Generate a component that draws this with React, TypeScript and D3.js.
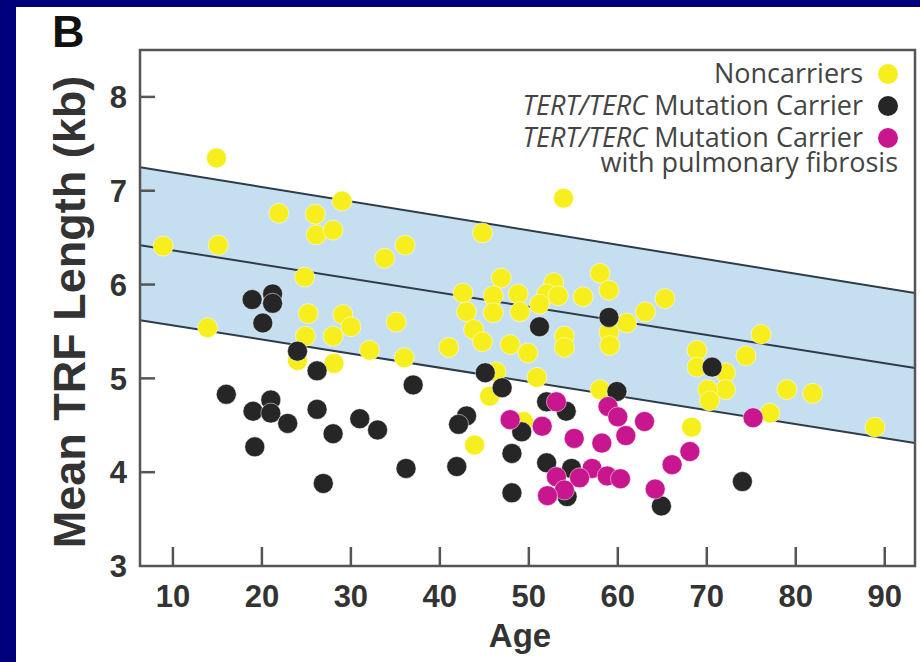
import React from 'react';
import * as d3 from 'd3';

// [age, mean TRF length kb]
const noncarriers: [number, number][] = [
  [8.9, 6.41], [14.9, 7.35], [15.1, 6.42], [13.9, 5.54], [21.9, 6.76], [26.0, 6.75],
  [29.0, 6.89], [26.1, 6.53], [28.0, 6.58], [24.8, 6.08], [33.8, 6.28], [36.1, 6.42],
  [44.8, 6.55], [25.2, 5.69], [29.1, 5.68], [30.0, 5.55], [35.1, 5.6], [24.9, 5.45],
  [28.0, 5.45], [24.0, 5.19], [28.1, 5.16], [32.1, 5.3], [36.0, 5.22], [41.0, 5.33],
  [42.6, 5.91], [43.0, 5.71], [46.9, 6.07], [46.0, 5.88], [48.8, 5.9], [43.8, 5.52],
  [44.8, 5.39], [46.0, 5.7], [47.9, 5.36], [49.0, 5.71], [49.9, 5.27], [46.3, 5.07],
  [45.6, 4.81], [50.9, 5.01], [49.4, 4.54], [43.9, 4.29], [52.8, 6.02], [52.0, 5.9],
  [51.2, 5.79], [53.3, 5.88], [56.1, 5.87], [54.0, 5.45], [54.0, 5.33], [53.9, 6.92],
  [58.0, 6.12], [59.0, 5.94], [59.0, 5.49], [59.1, 5.35], [61.0, 5.59], [63.1, 5.71],
  [65.3, 5.85], [58.0, 4.88], [68.9, 5.3], [68.9, 5.12], [72.1, 5.06], [72.1, 4.88],
  [70.1, 4.88], [70.3, 4.76], [74.4, 5.24], [76.1, 5.47], [79.0, 4.88], [81.9, 4.84],
  [77.1, 4.63], [68.3, 4.48], [88.9, 4.48]
];

const carriers: [number, number][] = [
  [18.9, 5.84], [21.2, 5.9], [21.2, 5.8], [20.1, 5.59], [24.0, 5.29], [26.2, 5.08],
  [16.0, 4.83], [21.0, 4.77], [19.0, 4.65], [21.0, 4.63], [22.9, 4.52], [26.2, 4.67],
  [28.0, 4.41], [31.0, 4.57], [33.0, 4.45], [19.2, 4.27], [26.9, 3.88], [36.2, 4.04],
  [37.0, 4.93], [59.0, 5.65], [51.2, 5.55], [45.1, 5.06], [47.0, 4.9], [59.9, 4.86],
  [52.0, 4.75], [54.2, 4.65], [43.0, 4.6], [42.1, 4.51], [49.2, 4.43], [48.1, 4.2],
  [52.0, 4.1], [54.8, 4.04], [41.9, 4.06], [48.1, 3.78], [54.3, 3.74], [64.9, 3.64],
  [70.6, 5.12], [74.0, 3.9]
];

const fibrosis: [number, number][] = [
  [53.1, 4.75], [47.9, 4.56], [51.5, 4.49], [55.1, 4.36], [58.2, 4.31], [58.9, 4.7],
  [60.0, 4.59], [60.9, 4.39], [63.0, 4.54], [57.1, 4.04], [55.7, 3.94], [53.1, 3.95],
  [58.8, 3.96], [60.3, 3.93], [54.0, 3.81], [52.1, 3.75], [64.2, 3.82], [66.1, 4.08],
  [68.1, 4.22], [75.2, 4.58]
];

// regression line and band edges at the ends of the age axis
const bandAges = [6.3, 93.4];
const bandUpper = [7.25, 5.91];
const bandMid = [6.42, 5.11];
const bandLower = [5.62, 4.31];

const xTicks = [10, 20, 30, 40, 50, 60, 70, 80, 90];
const yTicks = [3, 4, 5, 6, 7, 8];

const legendItems = [
  { italic: '', text: 'Noncarriers', extra: '', color: '#f7ee1e' },
  { italic: 'TERT/TERC', text: ' Mutation Carrier', extra: '', color: '#262626' },
  { italic: 'TERT/TERC', text: ' Mutation Carrier', extra: 'with pulmonary fibrosis', color: '#c8168e' }
];

const W = 920;
const H = 662;
const left = 140, right = 915, top = 50, bottom = 566;

export default function App() {
  const x = d3.scaleLinear().domain([6.3, 93.4]).range([left, right]);
  const y = d3.scaleLinear().domain([3, 8.5]).range([bottom, top]);

  const idx = d3.range(bandAges.length);
  const area = d3.area<number>()
    .x(i => x(bandAges[i]))
    .y0(i => y(bandLower[i]))
    .y1(i => y(bandUpper[i]));
  const line = (vals: number[]) =>
    d3.line<number>().x(i => x(bandAges[i])).y(i => y(vals[i]))(idx) || '';

  const axisColor = '#555';
  const textColor = '#333';
  const r = 10;

  const dots = (data: [number, number][], color: string) =>
    data.map((d, i) => (
      <circle key={i} cx={x(d[0])} cy={y(d[1])} r={r} fill={color}
        stroke="#fff" strokeOpacity={0.5} strokeWidth={1} />
    ));

  return (
    <svg width={W} height={H} style={{ position: 'absolute', left: 0, top: 0 }}
      fontFamily="'Liberation Sans', Arial, sans-serif">
      <rect x={0} y={0} width={W} height={H} fill="#00007c" />
      <rect x={16} y={7} width={W - 16} height={H - 7} fill="#fff" />

      <text x={52} y={47} fontSize={45} fontWeight="bold" fill="#111">B</text>

      <defs>
        <clipPath id="plot">
          <rect x={left} y={top} width={right - left} height={bottom - top} />
        </clipPath>
      </defs>

      <g clipPath="url(#plot)">
        <path d={area(idx) || ''} fill="#c6dff0" />
        <path d={line(bandUpper)} fill="none" stroke="#2e3b48" strokeWidth={2} />
        <path d={line(bandMid)} fill="none" stroke="#2e3b48" strokeWidth={2} />
        <path d={line(bandLower)} fill="none" stroke="#2e3b48" strokeWidth={2} />
      </g>

      {/* legend */}
      <g fontFamily="'Open Sans', sans-serif" fontSize={27} fill="#444">
        {legendItems.map((it, i) => (
          <g key={i}>
            <text x={863} y={83 + i * 32} textAnchor="end">
              {it.italic && <tspan fontStyle="italic">{it.italic}</tspan>}
              <tspan>{it.text}</tspan>
              {it.extra && <tspan x={898} dy={25}>{it.extra}</tspan>}
            </text>
            <circle cx={888} cy={74 + i * 32} r={r} fill={it.color} />
          </g>
        ))}
      </g>

      <g>{dots(noncarriers, '#f7ee1e')}</g>
      <g>{dots(carriers, '#262626')}</g>
      <g>{dots(fibrosis, '#c8168e')}</g>

      {/* frame */}
      <rect x={left} y={top} width={right - left} height={bottom - top}
        fill="none" stroke={axisColor} strokeWidth={2.5} />

      {yTicks.filter(t => t > 3).map(t => (
        <line key={t} x1={left} x2={left + 15} y1={y(t)} y2={y(t)} stroke={axisColor} strokeWidth={2.5} />
      ))}
      {yTicks.map(t => (
        <text key={t} x={127} y={y(t)} dy="0.36em" textAnchor="end" fontSize={31}
          fontWeight="bold" fill={textColor}>{t}</text>
      ))}
      {xTicks.map(t => (
        <g key={t}>
          <line x1={x(t)} x2={x(t)} y1={bottom} y2={bottom - 19} stroke={axisColor} strokeWidth={2.5} />
          <text x={x(t)} y={607} textAnchor="middle" fontSize={31} fontWeight="bold" fill={textColor}>{t}</text>
        </g>
      ))}

      <text x={520} y={647} textAnchor="middle" fontSize={33} fontWeight="bold" fill={textColor}>Age</text>
      <text transform={`translate(85, 312) rotate(-90)`} textAnchor="middle" fontSize={45}
        fontWeight="bold" fill={textColor}>Mean TRF Length (kb)</text>
    </svg>
  );
}
